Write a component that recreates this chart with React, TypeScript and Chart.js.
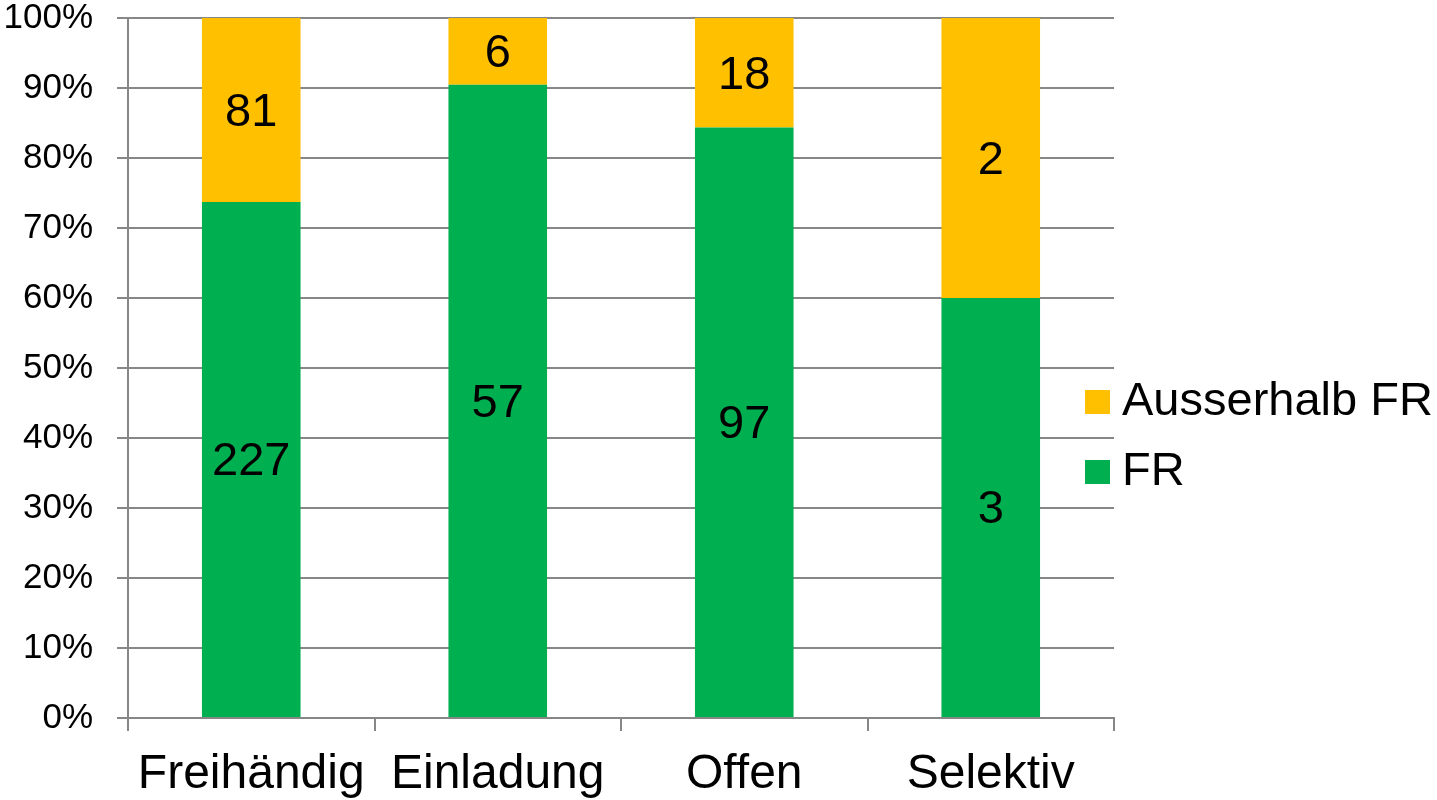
import React, { useEffect, useRef } from "react";
import { Chart, registerables } from "chart.js";

Chart.register(...registerables);

const categories = ["Freihändig", "Einladung", "Offen", "Selektiv"];
const frCounts = [227, 57, 97, 3];
const ausserhalbCounts = [81, 6, 18, 2];
const seriesNames = ["FR", "Ausserhalb FR"];
const seriesColors = ["#00B050", "#FFC000"];

const totals = categories.map((_, i) => frCounts[i] + ausserhalbCounts[i]);
const frPct = frCounts.map((v, i) => (v / totals[i]) * 100);
const ausPct = ausserhalbCounts.map((v, i) => (v / totals[i]) * 100);
const countsBySeries = [frCounts, ausserhalbCounts];

const FONT = "'Liberation Sans', Arial, sans-serif";
const GRID = "#878787";

const labelPlugin = {
  id: "segLabels",
  afterDatasetsDraw(chart: any) {
    const ctx = chart.ctx;
    ctx.save();
    ctx.font = `47px ${FONT}`;
    ctx.fillStyle = "#000";
    ctx.textAlign = "center";
    ctx.textBaseline = "middle";
    chart.data.datasets.forEach((ds: any, di: number) => {
      const meta = chart.getDatasetMeta(di);
      meta.data.forEach((el: any, i: number) => {
        const p = el.getProps(["x", "y", "base"], true);
        ctx.fillText(String(countsBySeries[di][i]), p.x, (p.y + p.base) / 2 + 3);
      });
    });
    ctx.restore();
  },
};

const legendPlugin = {
  id: "customLegend",
  afterDraw(chart: any) {
    const ctx = chart.ctx;
    const area = chart.chartArea;
    const x = area.right - 29;
    const cy = chart.height / 2 + 37;
    const items = [1, 0];
    ctx.save();
    ctx.font = `47px ${FONT}`;
    ctx.textAlign = "left";
    ctx.textBaseline = "middle";
    items.forEach((di, k) => {
      const y = cy - 35 + k * 70;
      ctx.fillStyle = seriesColors[di];
      ctx.fillRect(x, y - 12, 25, 24);
      ctx.fillStyle = "#000";
      ctx.fillText(seriesNames[di], x + 37, y);
    });
    ctx.restore();
  },
};

export default function App() {
  const ref = useRef<HTMLCanvasElement | null>(null);
  useEffect(() => {
    if (!ref.current) return;
    const chart = new Chart(ref.current, {
      type: "bar",
      data: {
        labels: categories,
        datasets: [
          { label: seriesNames[0], data: frPct, backgroundColor: seriesColors[0], categoryPercentage: 1, barPercentage: 0.4 },
          { label: seriesNames[1], data: ausPct, backgroundColor: seriesColors[1], categoryPercentage: 1, barPercentage: 0.4 },
        ],
      },
      options: {
        responsive: false,
        animation: false,
        layout: { padding: { top: 18, right: 323, left: 0, bottom: 0 } },
        plugins: { legend: { display: false }, tooltip: { enabled: false } },
        scales: {
          x: {
            stacked: true,
            grid: { display: true, drawOnChartArea: false, drawTicks: true, tickLength: 13, color: GRID, lineWidth: 2, offset: true },
            border: { display: true, color: GRID, width: 2 },
            ticks: { color: "#000", font: { family: FONT, size: 48 }, padding: 15, maxRotation: 0, autoSkip: false },
            afterFit(scale: any) { scale.height = 82; scale.paddingLeft = 0; scale.paddingRight = 0; },
          },
          y: {
            stacked: true,
            min: 0,
            max: 100,
            grid: { color: GRID, lineWidth: 2, tickLength: 11, drawTicks: true },
            border: { display: true, color: GRID, width: 2 },
            ticks: { stepSize: 10, color: "#000", font: { family: FONT, size: 35 }, padding: 24, callback: (v: any) => v + "%" },
            afterFit(scale: any) { scale.width = 128; scale.paddingTop = 0; scale.paddingBottom = 0; },
          },
        },
      },
      plugins: [labelPlugin, legendPlugin],
    });
    return () => chart.destroy();
  }, []);
  return (
    <div style={{ position: "fixed", left: 0, top: 0, width: 1437, height: 800, background: "#fff" }}>
      <canvas ref={ref} width={1437} height={800} style={{ display: "block" }} />
    </div>
  );
}
